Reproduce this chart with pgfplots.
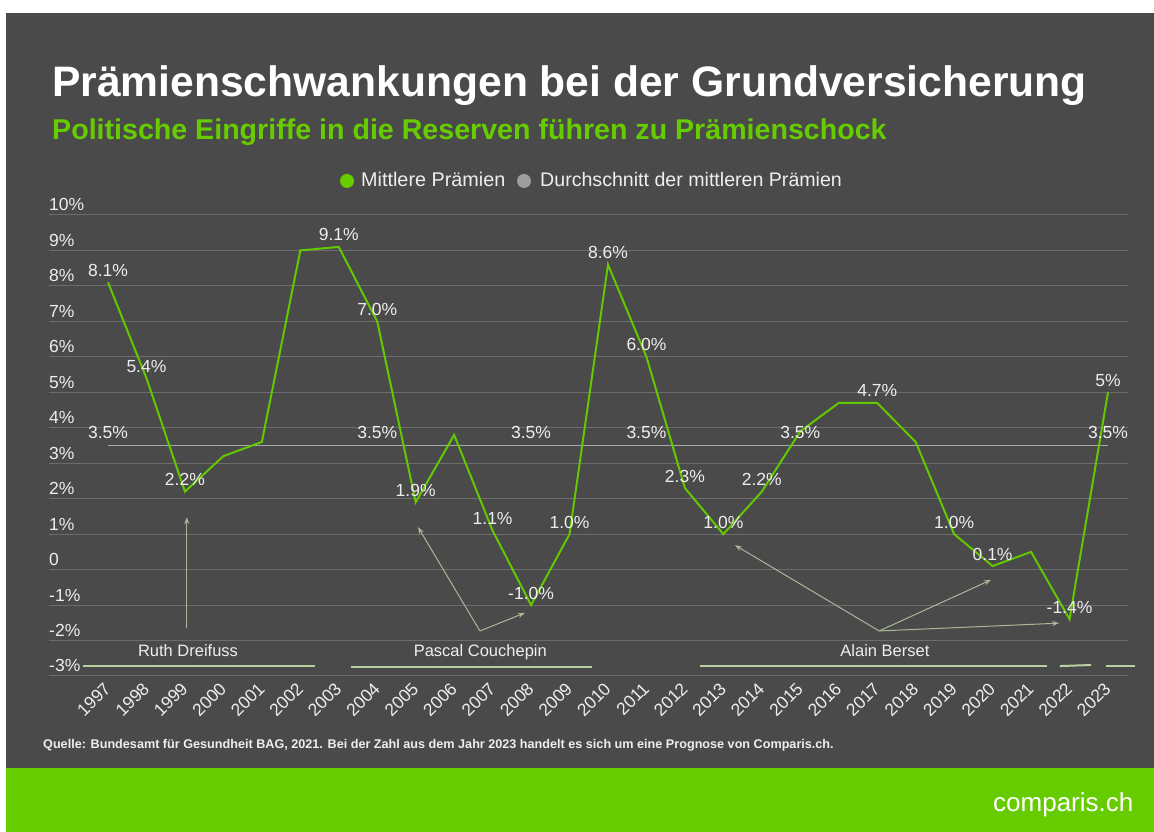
\documentclass[border=0pt]{standalone}
\usepackage{pgfplots}
\pgfplotsset{compat=1.18}
\usepackage{fontspec}
\setmainfont{Liberation Sans}
\usetikzlibrary{arrows.meta}
\definecolor{bg}{HTML}{4A4A4A}
\definecolor{cgreen}{HTML}{66CC00}
\definecolor{lgreen}{HTML}{62C800}
\definecolor{avgc}{HTML}{A8A8A8}
\definecolor{legg}{HTML}{9E9E9E}
\definecolor{gridc}{HTML}{6C6C6C}
\definecolor{anno}{HTML}{A8B898}
\definecolor{rulec}{HTML}{B8D0A2}
\definecolor{txt}{HTML}{EEEEEE}
\begin{document}
\begin{tikzpicture}[x=1pt,y=1pt]
\path[use as bounding box] (0,0) rectangle (1154,832);
\fill[white] (0,0) rectangle (1154,832);
\fill[bg] (6,64) rectangle (1154,819);
\fill[cgreen] (6,0) rectangle (1154,64);
% titles
\node[anchor=base west, inner sep=0pt, text=white, font=\fontsize{42.6}{48}\selectfont\bfseries] at (52,735) {Prämienschwankungen bei der Grundversicherung};
\node[anchor=base west, inner sep=0pt, text=cgreen, font=\fontsize{28.6}{32}\selectfont\bfseries] at (52,692) {Politische Eingriffe in die Reserven führen zu Prämienschock};
% legend
\fill[cgreen] (347,651) circle (7);
\node[anchor=base west, inner sep=0pt, text=txt, font=\fontsize{19.8}{22}\selectfont] at (361,645) {Mittlere Prämien};
\fill[legg] (524,651) circle (7);
\node[anchor=base west, inner sep=0pt, text=txt, font=\fontsize{19.6}{22}\selectfont] at (540,645) {Durchschnitt der mittleren Prämien};
% source
\node[anchor=base west, inner sep=0pt, text=txt, font=\fontsize{12.63}{15}\selectfont\bfseries] at (43,83) {Quelle: Bundesamt für Gesundheit BAG, 2021. Bei der Zahl aus dem Jahr 2023 handelt es sich um eine Prognose von Comparis.ch.};
% logo
\node[anchor=base west, inner sep=0pt, text=white, font=\fontsize{26}{30}\selectfont] at (993,20) {comparis.ch};
\begin{axis}[
  at={(49pt,156pt)}, anchor=south west,
  scale only axis, width=1079pt, height=461pt,
  xmin=1995.466, xmax=2023.52, ymin=-3, ymax=10,
  axis line style={draw=none},
  major tick length=0pt,
  ymajorgrids, grid style={gridc, line width=1pt},
  ytick={-3,...,10},
  yticklabels={-3\%,-2\%,-1\%,0,1\%,2\%,3\%,4\%,5\%,6\%,7\%,8\%,9\%,10\%},
  yticklabel style={anchor=base west, inner sep=0pt, yshift=4pt, text=txt, font=\fontsize{17.5}{20}\selectfont},
  xtick={1997,...,2023},
  xticklabels={1997,1998,1999,2000,2001,2002,2003,2004,2005,2006,2007,2008,2009,2010,2011,2012,2013,2014,2015,2016,2017,2018,2019,2020,2021,2022,2023},
  xticklabel style={xshift=4pt, yshift=-14pt, rotate=45, anchor=base east, inner sep=0pt, text=txt, font=\fontsize{17.5}{20}\selectfont},
  clip=false,
]
% average line
\addplot[avgc, line width=1.6pt, forget plot] coordinates {(1997,3.5) (2023,3.5)};
\addplot[draw=none, mark=none, forget plot, nodes near coords, point meta=explicit symbolic,
  every node near coord/.append style={anchor=base, yshift=7pt, inner sep=0pt, text=txt, font=\fontsize{17.5}{20}\selectfont}]
  table[meta=lab] {
x y lab
1997 3.5 3.5\%
2004 3.5 3.5\%
2008 3.5 3.5\%
2011 3.5 3.5\%
2015 3.5 3.5\%
2023 3.5 3.5\%
};
% main series
\addplot[lgreen, line width=2pt, forget plot] coordinates {
(1997,8.1) (1998,5.4) (1999,2.2) (2000,3.2) (2001,3.6) (2002,9.0) (2003,9.1)
(2004,7.0) (2005,1.9) (2006,3.8) (2007,1.1) (2008,-1.0) (2009,1.0) (2010,8.6)
(2011,6.0) (2012,2.3) (2013,1.0) (2014,2.2) (2015,3.9) (2016,4.7) (2017,4.7)
(2018,3.6) (2019,1.0) (2020,0.1) (2021,0.5) (2022,-1.4) (2023,5.0)};
\addplot[draw=none, mark=none, forget plot, nodes near coords, point meta=explicit symbolic,
  every node near coord/.append style={anchor=base, yshift=6pt, inner sep=0pt, text=txt, font=\fontsize{17.5}{20}\selectfont}]
  table[meta=lab] {
x y lab
1997 8.1 8.1\%
1998 5.4 5.4\%
1999 2.2 2.2\%
2003 9.1 9.1\%
2004 7.0 7.0\%
2005 1.9 1.9\%
2007 1.1 1.1\%
2008 -1.0 -1.0\%
2009 1.0 1.0\%
2010 8.6 8.6\%
2011 6.0 6.0\%
2012 2.3 2.3\%
2013 1.0 1.0\%
2014 2.2 2.2\%
2017 4.7 4.7\%
2019 1.0 1.0\%
2020 0.1 0.1\%
2022 -1.4 -1.4\%
2023 5.0 5\%
};
% president periods
\draw[rulec, line width=2pt] (axis cs:1996.35,-2.72) -- (axis cs:2002.38,-2.72);
\draw[rulec, line width=2pt] (axis cs:2003.32,-2.74) -- (axis cs:2009.58,-2.74);
\draw[rulec, line width=2pt] (axis cs:2012.39,-2.72) -- (axis cs:2021.41,-2.72);
\draw[rulec, line width=2pt] (axis cs:2021.75,-2.72) -- (axis cs:2022.56,-2.69);
\draw[rulec, line width=2pt] (axis cs:2022.95,-2.71) -- (axis cs:2023.70,-2.71);
\node[anchor=base, inner sep=0pt, text=txt, font=\fontsize{16.5}{20}\selectfont] at (axis cs:1999.08,-2.46) {Ruth Dreifuss};
\node[anchor=base, inner sep=0pt, text=txt, font=\fontsize{16.5}{20}\selectfont] at (axis cs:2006.68,-2.46) {Pascal Couchepin};
\node[anchor=base, inner sep=0pt, text=txt, font=\fontsize{16.5}{20}\selectfont] at (axis cs:2017.20,-2.46) {Alain Berset};
% arrows
\draw[anno, line width=1pt, -{Stealth[length=7pt,width=5pt]}] (axis cs:1999.05,-1.65) -- (axis cs:1999.05,1.48);
\draw[anno, line width=1pt, -{Stealth[length=7pt,width=5pt]}] (axis cs:2006.67,-1.73) -- (axis cs:2005.06,1.20);
\draw[anno, line width=1pt, -{Stealth[length=7pt,width=5pt]}] (axis cs:2006.67,-1.73) -- (axis cs:2007.84,-1.22);
\draw[anno, line width=1pt, -{Stealth[length=7pt,width=5pt]}] (axis cs:2017.05,-1.73) -- (axis cs:2013.30,0.69);
\draw[anno, line width=1pt, -{Stealth[length=7pt,width=5pt]}] (axis cs:2017.05,-1.73) -- (axis cs:2019.96,-0.29);
\draw[anno, line width=1pt, -{Stealth[length=7pt,width=5pt]}] (axis cs:2017.05,-1.73) -- (axis cs:2021.73,-1.51);
\end{axis}
\end{tikzpicture}
\end{document}
